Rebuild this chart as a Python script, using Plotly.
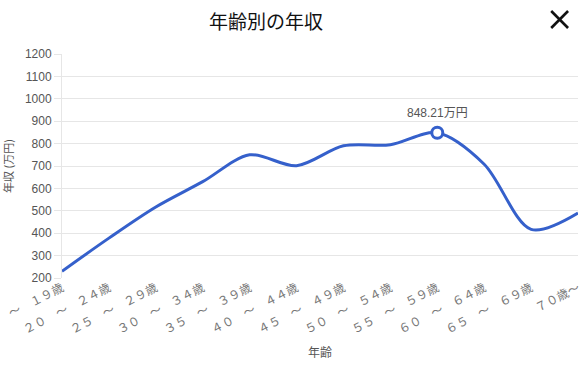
import plotly.graph_objects as go

categories = ["～　１９歳", "２０　～　２４歳", "２５　～　２９歳", "３０　～　３４歳", "３５　～　３９歳",
              "４０　～　４４歳", "４５　～　４９歳", "５０　～　５４歳", "５５　～　５９歳", "６０　～　６４歳",
              "６５　～　６９歳", "７０歳～"]
income = [230, 378, 517, 630, 750, 701, 790, 795, 848.21, 708, 417, 490]
peak_index = 8
y_ticks = [200, 300, 400, 500, 600, 700, 800, 900, 1000, 1100, 1200]

LINE = "#3560cb"
W, H = 585, 367
L, R, T, B = 62, 3, 54, 89
pw, ph = W - L - R, H - T - B

def px(x):
    return (x - L) / pw

def py(y):
    return (H - B - y) / ph

fig = go.Figure()
fig.add_trace(go.Scatter(
    x=categories, y=income, mode="lines",
    line=dict(color=LINE, width=3, shape="spline", smoothing=0.9),
    hoverinfo="skip", showlegend=False,
))
fig.add_trace(go.Scatter(
    x=[categories[peak_index]], y=[income[peak_index]], mode="markers",
    marker=dict(size=11, color="white", line=dict(color=LINE, width=3)),
    showlegend=False, hoverinfo="skip",
))
fig.add_annotation(
    x=categories[peak_index], y=income[peak_index], xref="x", yref="y",
    text=f"{income[peak_index]:.2f}万円", showarrow=False, yshift=20,
    xanchor="center", yanchor="middle",
    font=dict(family="Liberation Sans, Noto Sans CJK JP", size=12, color="#555"),
)

fig.update_layout(
    width=W, height=H,
    margin=dict(l=L, r=R, t=T, b=B),
    paper_bgcolor="white", plot_bgcolor="white",
    font=dict(family="Liberation Sans, Noto Sans CJK JP", color="#555"),
    xaxis=dict(
        type="category", range=[0, len(categories) - 1],
        showgrid=False, zeroline=False, showline=False,
        tickangle=-27, ticks="",
        tickfont=dict(family="Noto Sans CJK JP", size=12, color="#777"),
        title=dict(text="年齢", font=dict(family="Noto Sans CJK JP", size=12, color="#555"), standoff=12),
    ),
    yaxis=dict(
        range=[200, 1200], tickvals=y_ticks,
        showgrid=True, gridcolor="#e6e6e6", gridwidth=1,
        zeroline=False, showline=True, linecolor="#e6e6e6",
        ticks="outside", ticklen=7, tickcolor="#e6e6e6",
        tickfont=dict(family="Liberation Sans", size=12, color="#555"),
        title=dict(text="年収 (万円)", font=dict(family="Noto Sans CJK JP", size=11, color="#555"), standoff=14),
    ),
)

fig.add_annotation(
    text="年齢別の年収", xref="paper", yref="paper",
    x=px(268), y=py(20), showarrow=False, xanchor="center", yanchor="middle",
    font=dict(family="Noto Sans CJK JP", size=19, color="#111"),
)
# close button
for (x0, y0, x1, y1) in [(555, 11, 572, 28), (555, 28, 572, 11)]:
    fig.add_shape(type="line", xref="paper", yref="paper",
                  x0=px(x0), y0=py(y0), x1=px(x1), y1=py(y1),
                  line=dict(color="#111", width=2.6))

fig.write_html("out.html")
